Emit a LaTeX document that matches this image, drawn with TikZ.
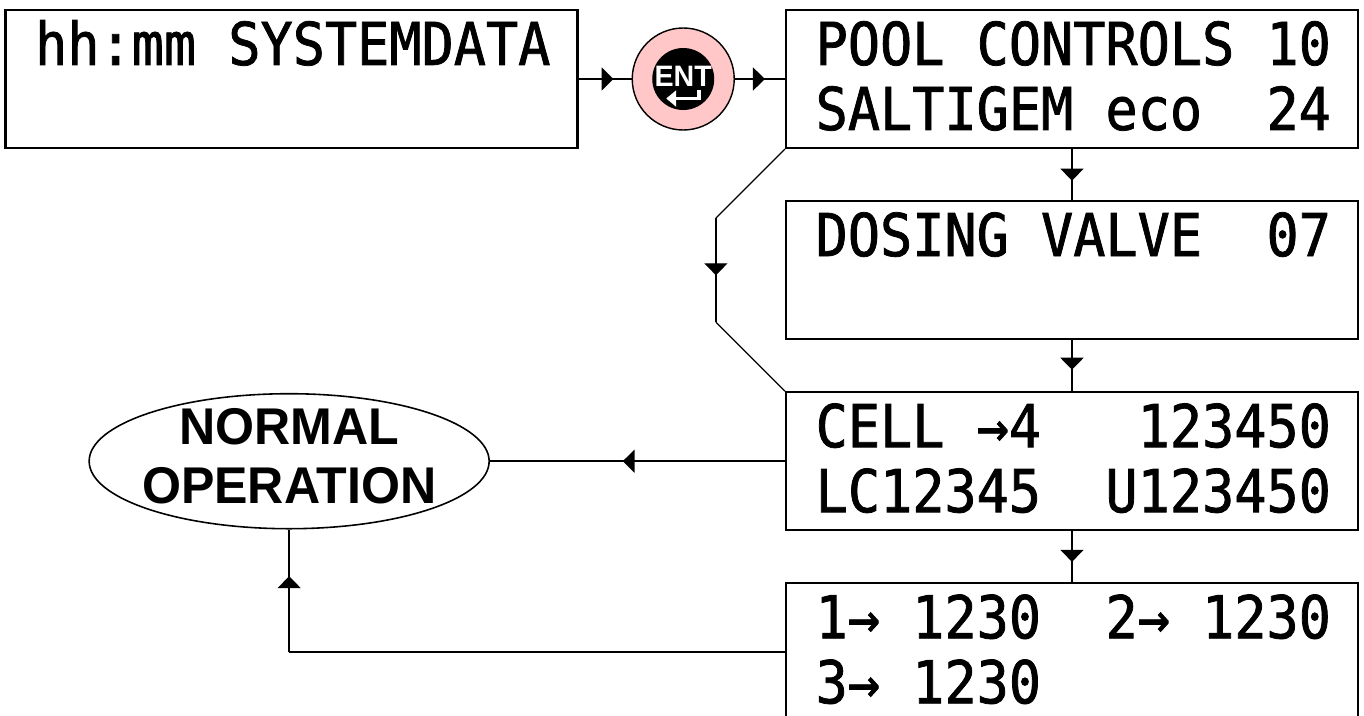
\documentclass[tikz,border=0pt]{standalone}
\usepackage{fontspec}
\usetikzlibrary{positioning,shapes.geometric,arrows.meta,decorations.markings}
\newfontfamily\lcdfont[FakeStretch=0.906,FakeBold=1.3]{DejaVu Sans Mono}
\newfontfamily\labelfont[FakeStretch=0.97]{Liberation Sans}
\definecolor{entpink}{RGB}{255,199,199}
\tikzset{
  lcd/.style={draw, line width=0.6pt, minimum width=5.72cm, minimum height=1.38cm, inner sep=0},
  lcdline/.style={anchor=base west, inner sep=0, font=\lcdfont\fontsize{16.8pt}{18pt}\selectfont},
  entbtn/.style={circle, draw, line width=0.4pt, fill=entpink, minimum size=1.02cm, inner sep=0},
  conn/.style={line width=0.55pt},
  bypass/.style={line width=0.35pt},
  midarrow/.style={postaction={decorate},
    decoration={markings, mark=at position #1 with {\arrow{Triangle[length=1.2mm,width=2.3mm]}}}},
}
\begin{document}
\begin{tikzpicture}[node distance=5.1mm]
  \useasboundingbox (0,0) rectangle (13.64,7.15);
  % display screens
  \node[lcd] (pool) at (10.72,6.36) {};
  \node[lcd, below=of pool] (dosing) {};
  \node[lcd, below=of dosing] (cell) {};
  \node[lcd, below=of cell] (hours) {};
  \node[entbtn, left=5mm of pool] (ent) {};
  \node[lcd, left=5.3mm of ent] (sys) {};
  \node[ellipse, draw, line width=0.45pt, minimum width=4.0cm, minimum height=1.35cm,
        inner sep=0, font=\labelfont\bfseries\fontsize{14.7pt}{16.8pt}\selectfont,
        left=2.95cm of cell] (normal)
        {\makebox[0pt]{\raisebox{-1.35mm}[0pt][0pt]{\begin{tabular}{@{}c@{}}NORMAL\\OPERATION\end{tabular}}}};

  % screen texts
  \node[lcdline] (sys-a) at ([shift={(3mm,-5.6mm)}]sys.north west) {hh:mm SYSTEMDATA};
  \node[lcdline] (pool-a) at ([shift={(3mm,-5.6mm)}]pool.north west) {POOL CONTROLS 10};
  \node[lcdline] (pool-b) at ([shift={(3mm,-12.1mm)}]pool.north west) {SALTIGEM eco~~24};
  \node[lcdline] (dosing-a) at ([shift={(3mm,-5.6mm)}]dosing.north west) {DOSING VALVE~~07};
  \node[lcdline] (cell-a) at ([shift={(3mm,-5.6mm)}]cell.north west) {CELL →4~~~123450};
  \node[lcdline] (cell-b) at ([shift={(3mm,-12.1mm)}]cell.north west) {LC12345~~U123450};
  \node[lcdline] (hours-a) at ([shift={(3mm,-5.6mm)}]hours.north west) {1→ 1230~~2→ 1230};
  \node[lcdline] (hours-b) at ([shift={(3mm,-12.1mm)}]hours.north west) {3→ 1230};

  % ENT key
  \fill (ent.center) circle (0.31);
  \node[inner sep=0, text=white, font=\labelfont\bfseries\fontsize{8.4pt}{9pt}\selectfont]
    (ent-lbl) at ([yshift=0.3mm]ent.center) {ENT};
  \draw[white, line width=1.1pt, -{Triangle[length=1mm,width=1.6mm]}]
    ([shift={(1.6mm,-1.05mm)}]ent.center) -- ++(0,-0.9mm) -- ++(-3.3mm,0);

  % connectors
  \draw[conn, midarrow=0.66] (sys.east) -- (ent.west);
  \draw[conn, midarrow=0.6] (ent.east) -- (pool.west);
  \draw[conn, midarrow=0.62] (pool.south) -- (dosing.north);
  \draw[conn, midarrow=0.58] (dosing.south) -- (cell.north);
  \draw[conn, midarrow=0.6] (cell.south) -- (hours.north);
  \draw[conn, midarrow=0.55] (cell.west) -- (normal.east);
  \coordinate (turn) at (normal.south |- hours.west);
  \draw[conn] (hours.west) -- (turn);
  \draw[conn, midarrow=0.62] (turn) -- (normal.south);

  % skip past dosing valve
  \coordinate (skip-a) at ([shift={(-6.9mm,-6.9mm)}]pool.south west);
  \coordinate (skip-b) at ([shift={(-6.9mm,6.9mm)}]cell.north west);
  \draw[bypass] (pool.south west) -- (skip-a);
  \draw[bypass, midarrow=0.55] (skip-a) -- (skip-b);
  \draw[bypass] (skip-b) -- (cell.north west);
\end{tikzpicture}
\end{document}
